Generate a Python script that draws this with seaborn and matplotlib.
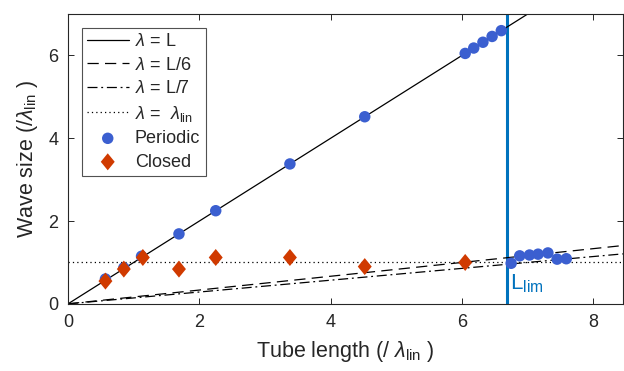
import numpy as np
import pandas as pd
import seaborn as sns
import matplotlib.pyplot as plt

# tube length range for the reference lines
tube_len = np.array([0.0, 8.45])
lambda_lin = 1.0
L_lim = 6.69

# periodic solutions
periodic_L = [0.57, 0.85, 1.12, 1.69, 2.25, 3.38, 4.52, 6.05, 6.18, 6.32, 6.46, 6.6,
              6.75, 6.88, 7.03, 7.16, 7.31, 7.45, 7.59]
periodic_w = [0.6, 0.87, 1.15, 1.69, 2.25, 3.38, 4.52, 6.05, 6.18, 6.32, 6.46, 6.6,
              0.98, 1.16, 1.18, 1.2, 1.23, 1.08, 1.09]

# closed solutions
closed_L = [0.57, 0.85, 1.14, 1.69, 2.25, 3.38, 4.52, 6.05]
closed_w = [0.55, 0.84, 1.12, 0.84, 1.12, 1.12, 0.9, 1.0]

# matlab-like diamond (a bit wider than mpl's thin diamond)
diamond = [(0, 1), (0.82, 0), (0, -1), (-0.82, 0), (0, 1)]

sns.set_style("ticks")
plt.rcParams['font.family'] = ['Liberation Sans', 'DejaVu Sans']
plt.rcParams['mathtext.fontset'] = 'custom'
plt.rcParams['mathtext.rm'] = 'Liberation Sans'
plt.rcParams['mathtext.it'] = 'Liberation Sans:italic'

fig = plt.figure(figsize=(6.24, 3.71), dpi=100)
ax = fig.add_axes([0.109, 0.181, 0.889, 0.781])

lines = pd.DataFrame({"L": tube_len})
sns.lineplot(x=lines["L"], y=lines["L"], ax=ax, color="black", lw=0.9,
             label=r"$\lambda$ = L")
sns.lineplot(x=lines["L"], y=lines["L"] / 6, ax=ax, color="black", lw=0.9,
             dashes=False, linestyle=(0, (9, 5)), label=r"$\lambda$ = L/6")
sns.lineplot(x=lines["L"], y=lines["L"] / 7, ax=ax, color="black", lw=0.9,
             linestyle=(0, (8, 3, 1.5, 3)), label=r"$\lambda$ = L/7")
sns.lineplot(x=lines["L"], y=lines["L"] * 0 + lambda_lin, ax=ax, color="black", lw=0.9,
             linestyle=(0, (1, 2.5)), label=r"$\lambda$ =  $\lambda_{\rm lin}$")

ax.axvline(L_lim, color="#0072BD", lw=2.2, zorder=1)

sns.scatterplot(x=periodic_L, y=periodic_w, ax=ax, color="#3B5FD0", s=68,
                edgecolor="none", marker="o", label="Periodic", zorder=3)
sns.scatterplot(x=closed_L, y=closed_w, ax=ax, color="#D03A00", s=150,
                edgecolor="none", marker=diamond, label="Closed", zorder=4)

ax.text(L_lim + 0.05, 0.36, r"L$_{\rm lim}$", color="#0072BD", fontsize=16)

ax.set_xlim(0, 8.45)
ax.set_ylim(0, 7)
ax.set_xticks([0, 2, 4, 6, 8])
ax.set_yticks([0, 2, 4, 6])
ax.tick_params(direction="in", top=True, right=True, labelsize=13, length=4,
               width=0.7, colors="#262626", pad=7)
for s in ax.spines.values():
    s.set_linewidth(0.8)
    s.set_color("#262626")

ax.set_xlabel(r"Tube length (/ $\lambda_{\rm lin}$ )", fontsize=15.5,
              color="#262626", labelpad=6)
ax.set_ylabel(r"Wave size (/$\lambda_{\rm lin}$ )", fontsize=15.5,
              color="#262626", labelpad=6)

leg = ax.legend(loc="upper left", fontsize=13, frameon=True, fancybox=False,
                edgecolor="#262626", handlelength=2.3, borderpad=0.3,
                labelspacing=0.36, handletextpad=0.35,
                bbox_to_anchor=(0.0, 1.0), borderaxespad=0.75)
leg.get_frame().set_linewidth(0.8)

fig.savefig("out.png", dpi=100)
